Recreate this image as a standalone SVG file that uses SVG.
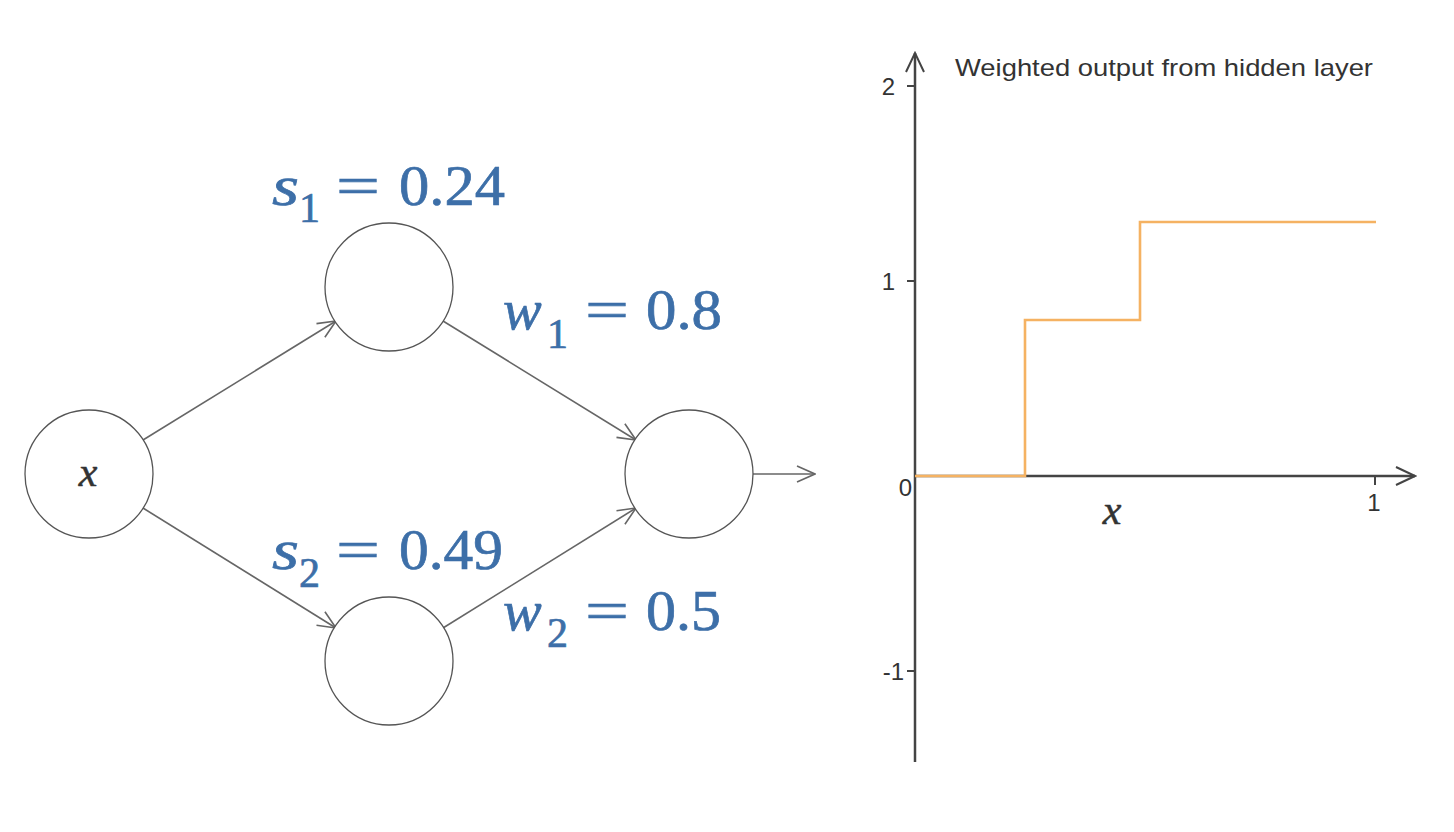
<svg xmlns="http://www.w3.org/2000/svg" width="1454" height="832" viewBox="0 0 1454 832">
<defs>
<marker id="arr" viewBox="0 0 20 20" refX="19" refY="10" markerWidth="20" markerHeight="20" markerUnits="userSpaceOnUse" orient="auto">
<path d="M1,2 L19,10 L1,18" fill="none" stroke="#666" stroke-width="1.6"/>
</marker>
<marker id="axarr" viewBox="0 0 24 24" refX="22" refY="12" markerWidth="24" markerHeight="24" markerUnits="userSpaceOnUse" orient="auto">
<path d="M3,3 L22,12 L3,21" fill="none" stroke="#444" stroke-width="2"/>
</marker>
</defs>
<style>
.node{fill:#fff;stroke:#555;stroke-width:1.3}
.edge{fill:none;stroke:#666;stroke-width:1.6;marker-end:url(#arr)}
.math{font-family:"Liberation Serif","DejaVu Serif",serif;fill:#3d6fa8;stroke:#3d6fa8;stroke-width:0.7}
.big{font-size:58px}
.sub{font-size:42px}
.it{font-style:italic}
.var{font-family:"Liberation Serif","DejaVu Serif",serif;font-style:italic;fill:#333;stroke:#333;stroke-width:0.5;font-size:42px}
.lbl{font-family:"Liberation Sans",Arial,sans-serif;fill:#333;font-size:24px}
.axis{stroke:#444;stroke-width:2.5;fill:none}
.tick{stroke:#444;stroke-width:2}
</style>
<rect width="1454" height="832" fill="#fff"/>

<g id="connectors">
<line class="edge" x1="143" y1="440" x2="336" y2="321"/>
<line class="edge" x1="143" y1="508" x2="336" y2="628"/>
<line class="edge" x1="443" y1="321" x2="636" y2="440"/>
<line class="edge" x1="443" y1="628" x2="636" y2="508"/>
<line class="edge" x1="753" y1="474" x2="815" y2="474"/>
</g>

<g id="node-x">
<circle class="node" cx="89" cy="474" r="64"/>
<text class="var" x="88" y="486" text-anchor="middle">x</text>
</g>
<g id="node-h1">
<circle class="node" cx="389" cy="287" r="64"/>
</g>
<g id="node-h2">
<circle class="node" cx="389" cy="661" r="64"/>
</g>
<g id="node-out">
<circle class="node" cx="689" cy="474" r="64"/>
</g>

<g id="label-s1" class="math">
<text class="big it" x="272" y="205" textLength="27" lengthAdjust="spacingAndGlyphs">s</text>
<text class="sub" x="299" y="222">1</text>
<text class="big" x="336" y="205" textLength="44" lengthAdjust="spacingAndGlyphs">=</text>
<text class="big" x="399" y="205" textLength="106" lengthAdjust="spacingAndGlyphs">0.24</text>
</g>
<g id="label-w1" class="math">
<text class="big it" x="503" y="329">w</text>
<text class="sub" x="547" y="348">1</text>
<text class="big" x="585" y="329" textLength="44" lengthAdjust="spacingAndGlyphs">=</text>
<text class="big" x="646" y="329" textLength="76" lengthAdjust="spacingAndGlyphs">0.8</text>
</g>
<g id="label-s2" class="math">
<text class="big it" x="272" y="569" textLength="27" lengthAdjust="spacingAndGlyphs">s</text>
<text class="sub" x="299" y="587">2</text>
<text class="big" x="336" y="569" textLength="44" lengthAdjust="spacingAndGlyphs">=</text>
<text class="big" x="399" y="569" textLength="104" lengthAdjust="spacingAndGlyphs">0.49</text>
</g>
<g id="label-w2" class="math">
<text class="big it" x="503" y="630">w</text>
<text class="sub" x="547" y="647">2</text>
<text class="big" x="585" y="630" textLength="44" lengthAdjust="spacingAndGlyphs">=</text>
<text class="big" x="646" y="630" textLength="75" lengthAdjust="spacingAndGlyphs">0.5</text>
</g>

<g id="chart">
<line class="axis" x1="915" y1="762" x2="915" y2="53" marker-end="url(#axarr)"/>
<line class="axis" x1="915" y1="476" x2="1415" y2="476" marker-end="url(#axarr)"/>
<line class="tick" x1="907" y1="86" x2="915" y2="86"/>
<line class="tick" x1="907" y1="281" x2="915" y2="281"/>
<line class="tick" x1="907" y1="671" x2="915" y2="671"/>
<line class="tick" x1="1375" y1="476" x2="1375" y2="485"/>
<text class="lbl" x="895" y="95" text-anchor="end">2</text>
<text class="lbl" x="895" y="290" text-anchor="end">1</text>
<text class="lbl" x="912" y="496" text-anchor="end">0</text>
<text class="lbl" x="904" y="680" text-anchor="end">-1</text>
<text class="lbl" x="1374" y="511" text-anchor="middle">1</text>
<text class="lbl" x="955" y="76" textLength="418" lengthAdjust="spacingAndGlyphs">Weighted output from hidden layer</text>
<text class="var" x="1112" y="524" text-anchor="middle">x</text>
<polyline points="915,476 1025,476 1025,320 1140,320 1140,222 1376,222" fill="none" stroke="#f5b262" stroke-width="2.6"/>
</g>
</svg>
